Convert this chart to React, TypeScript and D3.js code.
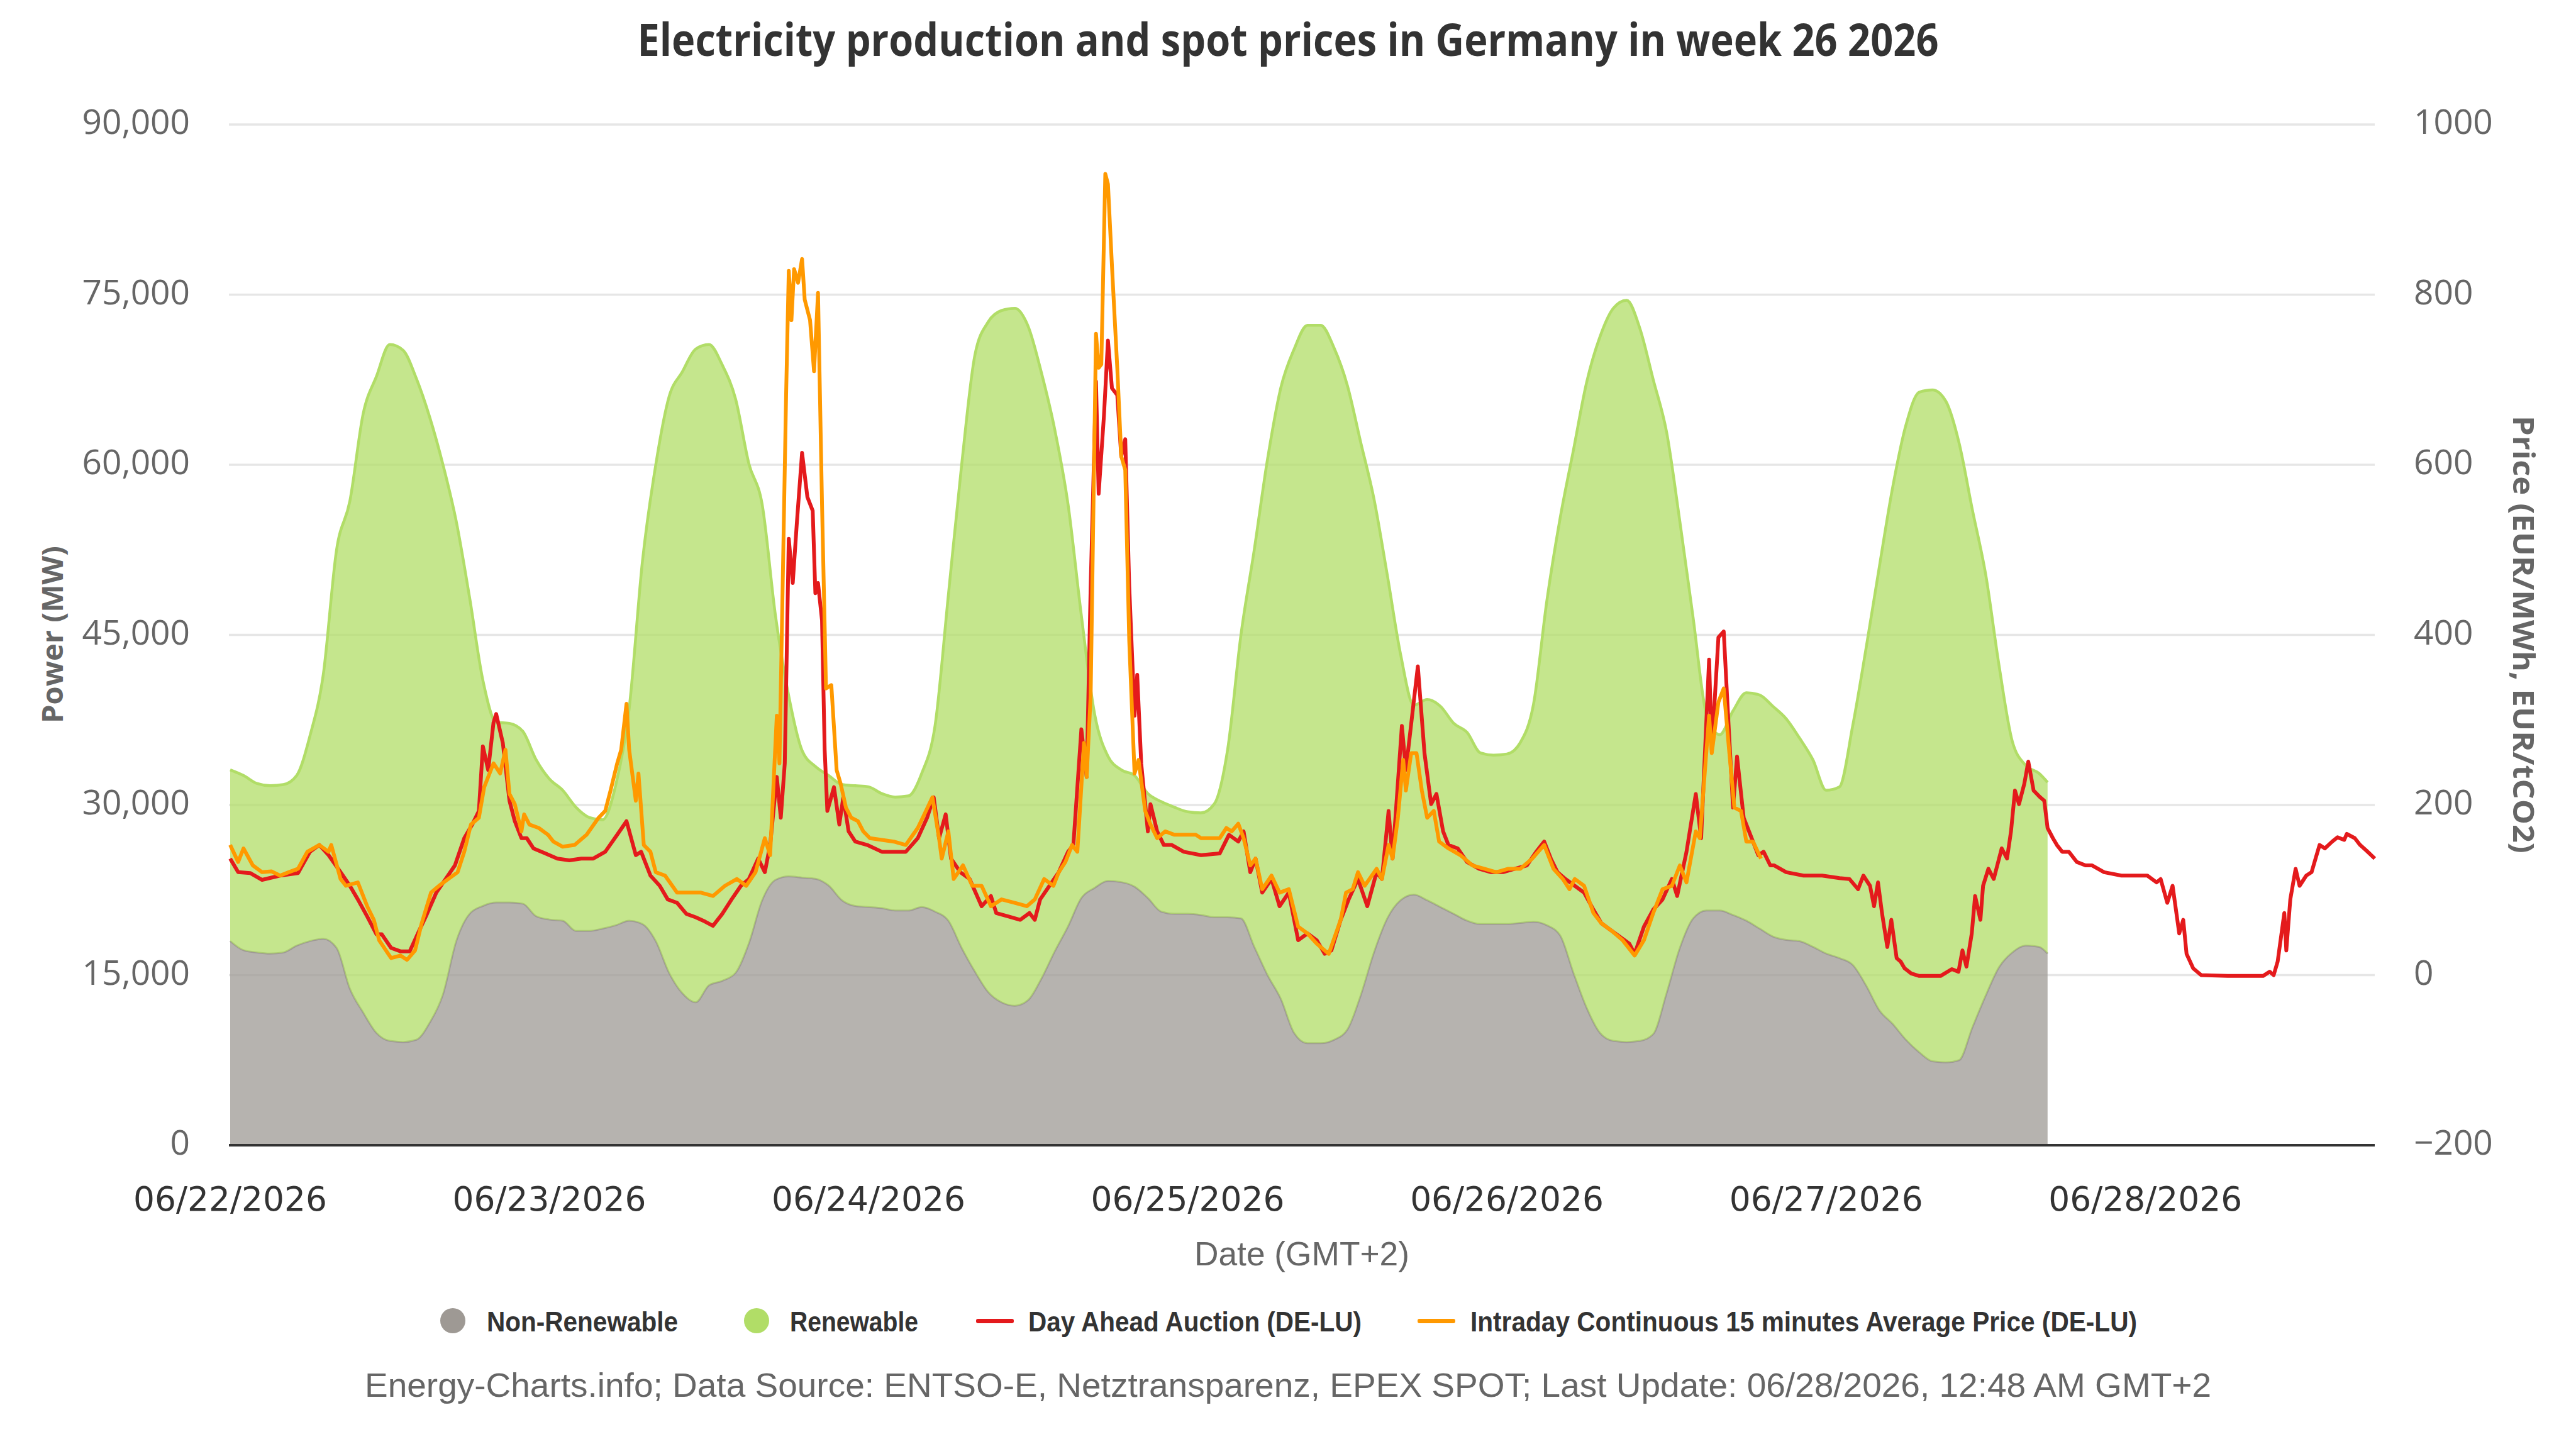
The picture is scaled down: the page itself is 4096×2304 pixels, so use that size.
import React from "react";
import * as d3 from "d3";

// -- DATA --
// production, one value per hour starting 06/22/2026 00:00 (MW)
const nonRenewable = [
  18000, 17200, 17000, 16900, 17000, 17600, 18000, 18200, 17400, 13800,
  11700, 9900, 9200, 9100, 9300, 10800, 13300, 18000, 20400, 21100,
  21400, 21400, 21300, 20200, 19900, 19800, 18900, 18900, 19100, 19400,
  19800, 19500, 18000, 15200, 13400, 12600, 14100, 14500, 15200, 17800,
  21600, 23400, 23700, 23600, 23500, 22900, 21600, 21100, 21000, 20900,
  20700, 20700, 21000, 20600, 19800, 17400, 15300, 13500, 12600, 12300,
  12800, 14700, 17100, 19300, 21800, 22700, 23300, 23200, 22800, 21800,
  20600, 20400, 20400, 20300, 20100, 20100, 20000, 17500, 15000, 12900,
  9900, 9000, 9000, 9300, 10200, 13200, 17000, 20000, 21600, 22100,
  21600, 21000, 20400, 19800, 19500, 19500, 19500, 19600, 19700, 19400,
  18500, 15200, 12100, 9900, 9200, 9100, 9200, 9800, 13400, 17400,
  20000, 20700, 20700, 20300, 19800, 19100, 18400, 18100, 18000, 17500,
  16900, 16500, 15900, 14100, 11900, 10700, 9300, 8200, 7400, 7300,
  7500, 10400, 13200, 15700, 17000, 17600, 17500, 16900,
];
const renewable = [
  15100, 15400, 14900, 14800, 14800, 15000, 18100, 23300, 35100, 43000,
  52800, 57900, 61400, 61000, 58300, 53400, 46700, 37000, 27900, 19900,
  15900, 15800, 15200, 13800, 12400, 11500, 10900, 10000, 9600, 12400,
  18700, 32000, 42000, 50800, 54800, 57600, 56500, 54300, 50600, 42300,
  34900, 23300, 15900, 11200, 9900, 9700, 10200, 10600, 10600, 10100,
  10000, 10100, 11800, 16400, 28700, 42600, 54400, 59100, 61000, 61500,
  59400, 53400, 46000, 37200, 24900, 15300, 11000, 9900, 9800, 9200,
  9700, 9400, 9000, 9000, 10000, 14800, 25000, 35000, 45500, 53900,
  60300, 63300, 63300, 61000, 56800, 48800, 40000, 30300, 21700, 16700,
  17700, 17700, 16800, 16600, 15100, 14900, 15000, 15900, 19200, 28600,
  36800, 46100, 55200, 61400, 64600, 65400, 62800, 57700, 49500, 37600,
  26500, 17300, 15500, 18000, 20100, 20600, 20300, 19500, 17900, 16500,
  14400, 15100, 21100, 29700, 39100, 47300, 54200, 58200, 59200, 58300,
  54400, 45600, 37100, 26600, 18600, 15900, 15300, 15100,
];
// last production timestamp, hours after 06/22 00:00
const productionEndHour = 136.65;

// [hours after 06/22 00:00, EUR/MWh]
const dayAhead: [number, number][] = [
  [0, 137], [0.6, 121], [1.5, 120], [2.4, 112], [3.75, 117], [5.1, 120], [6, 145], [6.7, 153],
  [7.4, 141], [8.3, 121], [9, 105], [9.6, 89], [10.3, 69], [11, 48], [11.4, 48], [12.1, 32],
  [12.8, 28], [13.5, 28], [14.2, 52], [14.8, 72], [15.5, 97], [16.2, 113], [16.9, 129], [17.6, 161],
  [18.2, 177], [18.7, 193], [19, 269], [19.4, 241], [19.8, 297], [20, 307], [20.5, 273], [21, 205],
  [21.4, 181], [21.9, 161], [22.3, 161], [22.8, 149], [23.7, 143], [24.6, 137], [25.5, 135], [26.4, 137],
  [27.3, 137], [28.2, 145], [29.1, 165], [29.8, 181], [30.5, 141], [30.9, 145], [31.6, 117], [32.3, 105],
  [32.9, 89], [33.6, 85], [34.3, 72], [35, 68], [35.7, 63], [36.3, 58], [37, 72], [37.7, 89],
  [38.4, 105], [39, 113], [39.7, 137], [40.2, 121], [40.6, 153], [41.1, 233], [41.4, 185], [41.7, 249],
  [42, 513], [42.3, 461], [42.6, 530], [43, 614], [43.4, 562], [43.8, 546], [44, 449], [44.2, 461],
  [44.5, 417], [44.7, 265], [44.9, 193], [45.4, 221], [45.8, 177], [46.1, 209], [46.5, 169], [47, 157],
  [47.9, 153], [49, 145], [50.8, 145], [51.7, 161], [52.4, 185], [52.9, 209], [53.3, 161], [53.8, 189],
  [54.2, 137], [54.9, 121], [55.6, 113], [56.5, 81], [57.2, 93], [57.6, 73], [58.5, 69], [59.4, 65],
  [60.1, 73], [60.5, 65], [60.9, 89], [61.6, 105], [62.3, 121], [63, 145], [63.4, 153], [64, 289],
  [64.4, 233], [64.7, 457], [65.1, 698], [65.3, 566], [65.7, 658], [66, 746], [66.3, 690], [66.7, 682],
  [67, 610], [67.3, 630], [67.6, 457], [68, 305], [68.2, 353], [68.5, 249], [69, 169], [69.2, 201],
  [69.7, 169], [70.2, 153], [70.8, 153], [71.7, 145], [73, 141], [74.4, 143], [75.1, 165], [75.8, 157],
  [76.2, 169], [76.7, 121], [77.1, 137], [77.6, 97], [78.3, 113], [78.9, 81], [79.6, 97], [80.3, 41],
  [81, 49], [81.7, 41], [82.3, 25], [82.8, 29], [83.5, 65], [84.1, 89], [84.8, 113], [85.5, 81],
  [86.2, 121], [86.6, 113], [87.1, 193], [87.4, 137], [88.1, 293], [88.4, 241], [88.9, 309], [89.3, 363],
  [89.8, 261], [90.3, 201], [90.7, 213], [91.2, 169], [91.6, 153], [92.3, 149], [93, 133], [93.9, 125],
  [94.8, 121], [95.7, 121], [96.6, 125], [97.5, 129], [98.2, 145], [98.8, 157], [99.3, 137], [99.8, 121],
  [100.4, 113], [101.1, 105], [101.8, 97], [102.5, 77], [103.1, 61], [103.8, 53], [104.5, 45], [105.2, 37],
  [105.6, 25], [106.3, 57], [107, 77], [107.7, 89], [108.4, 113], [108.8, 93], [109.5, 145], [110.2, 213],
  [110.6, 161], [111.2, 371], [111.4, 265], [111.9, 397], [112.3, 404], [112.6, 313], [113, 197], [113.3, 257],
  [113.8, 185], [114.2, 169], [114.9, 141], [115.3, 145], [115.8, 129], [116.1, 129], [117, 121], [118.3, 117],
  [119.7, 117], [121, 114], [121.75, 113], [122.4, 101], [122.8, 117], [123.3, 105], [123.6, 81], [123.9, 109],
  [124.2, 73], [124.6, 33], [124.9, 65], [125.3, 20], [125.6, 16], [125.9, 8], [126.4, 2], [127, -1],
  [128.6, -1], [129.45, 7], [129.95, 4], [130.25, 29], [130.55, 10], [130.95, 49], [131.2, 93], [131.6, 65],
  [131.8, 105], [132.2, 125], [132.6, 113], [133.2, 149], [133.6, 137], [133.9, 169], [134.2, 217], [134.5, 201],
  [134.9, 225], [135.2, 251], [135.6, 217], [136.1, 209], [136.4, 205], [136.65, 173], [137.05, 161], [137.35, 153],
  [137.75, 145], [138.25, 145], [138.85, 133], [139.5, 129], [140, 129], [140.9, 121], [142.2, 117], [143.6, 117],
  [144.15, 117], [144.85, 109], [145.15, 113], [145.65, 85], [146.05, 105], [146.55, 49], [146.85, 65], [147.1, 25],
  [147.6, 8], [148.2, 0], [150.2, -1], [152.85, -1], [153.35, 4], [153.65, 0], [153.95, 16], [154.45, 73],
  [154.6, 29], [154.9, 89], [155.3, 125], [155.6, 105], [156.1, 117], [156.5, 121], [156.8, 137], [157.1, 153],
  [157.5, 149], [158.05, 157], [158.45, 162], [158.95, 159], [159.15, 166], [159.75, 161], [160.15, 153], [160.65, 146],
  [161.25, 137],
];
const intraday: [number, number][] = [
  [0, 153], [0.6, 133], [1, 149], [1.7, 129], [2.4, 121], [3.1, 122], [3.75, 117], [4.4, 121],
  [5.1, 125], [5.8, 145], [6.7, 153], [7.4, 145], [7.6, 153], [8.3, 113], [8.7, 105], [9.6, 109],
  [10.3, 81], [10.8, 65], [11.2, 41], [12.1, 20], [12.8, 23], [13.3, 18], [13.9, 29], [14.4, 61],
  [15.1, 97], [15.7, 105], [16.4, 113], [17.1, 121], [17.6, 145], [18.1, 177], [18.7, 185], [19.1, 221],
  [19.8, 249], [20.3, 237], [20.7, 265], [21, 213], [21.4, 201], [21.9, 169], [22.1, 189], [22.5, 177],
  [23.2, 173], [23.9, 165], [24.3, 157], [25, 151], [25.9, 153], [26.8, 165], [27.7, 185], [28.2, 193],
  [28.6, 217], [29.1, 249], [29.4, 265], [29.8, 319], [30, 265], [30.5, 205], [30.7, 237], [31.1, 153],
  [31.6, 145], [32, 121], [32.7, 117], [33.6, 97], [34.5, 97], [35.4, 97], [36.3, 93], [37.2, 105],
  [38.1, 113], [38.8, 105], [39.5, 121], [40.2, 161], [40.6, 141], [41.1, 305], [41.3, 249], [41.8, 682],
  [42, 828], [42.2, 770], [42.4, 830], [42.7, 814], [43, 842], [43.2, 794], [43.6, 770], [43.9, 710],
  [44.2, 802], [44.5, 554], [44.8, 337], [45.2, 341], [45.6, 241], [45.9, 225], [46.3, 197], [46.7, 185],
  [47.2, 181], [47.6, 169], [48.1, 161], [49, 159], [49.9, 157], [50.8, 153], [51.7, 173], [52.1, 186],
  [52.8, 209], [53.3, 161], [53.5, 137], [54, 169], [54.4, 113], [55.1, 129], [55.8, 105], [56.5, 105],
  [57.2, 81], [58, 89], [59, 85], [59.9, 81], [60.5, 89], [61.2, 113], [61.9, 105], [62.3, 121],
  [62.8, 133], [63.3, 153], [63.7, 145], [64.2, 273], [64.4, 233], [64.7, 329], [65.1, 754], [65.3, 714],
  [65.5, 718], [65.8, 942], [66, 930], [66.3, 834], [66.7, 714], [67, 610], [67.3, 594], [67.6, 393],
  [68, 237], [68.3, 253], [68.8, 193], [69.2, 177], [69.7, 161], [70.3, 169], [71, 165], [71.7, 165],
  [72.6, 165], [73, 161], [74.4, 161], [74.9, 173], [75.3, 169], [75.8, 178], [76.2, 161], [76.7, 129],
  [77.1, 137], [77.6, 101], [78.3, 117], [78.9, 97], [79.6, 101], [80.3, 57], [81, 49], [81.7, 37],
  [82.6, 25], [83.5, 65], [83.9, 97], [84.4, 101], [84.8, 121], [85.3, 105], [86.2, 125], [86.6, 113],
  [87.1, 153], [87.4, 137], [87.8, 185], [88.2, 253], [88.4, 217], [88.8, 261], [89.2, 261], [89.6, 217],
  [90, 185], [90.5, 193], [90.9, 157], [91.6, 149], [92.5, 141], [93.4, 129], [94.3, 125], [95.2, 121],
  [96.1, 125], [97, 125], [97.9, 137], [98.8, 153], [99.5, 125], [100.2, 113], [100.7, 101], [101.1, 113],
  [101.8, 105], [102.5, 73], [103.1, 61], [103.8, 53], [104.7, 41], [105.6, 23], [106.3, 41], [107, 73],
  [107.7, 101], [108.4, 105], [109, 129], [109.5, 109], [110.2, 169], [110.5, 161], [111.2, 305], [111.4, 261],
  [111.9, 321], [112.3, 337], [112.7, 265], [113.1, 197], [113.6, 193], [114, 157], [114.5, 157], [115.1, 137],
];

const dayLabels = ["06/22/2026", "06/23/2026", "06/24/2026", "06/25/2026", "06/26/2026", "06/27/2026", "06/28/2026"];
const powerTicks = [0, 15000, 30000, 45000, 60000, 75000, 90000];
const priceTicks = [-200, 0, 200, 400, 600, 800, 1000];

const colors = {
  nonRenewable: "#9e9994",
  renewable: "#b1dd67",
  dayAhead: "#e41a1c",
  intraday: "#ff9900",
};

// -- LAYOUT --
const W = 4096;
const H = 2304;
const margin = { left: 366, right: 3776, top: 198, bottom: 1821 };
const LABEL_FONT = "'Open Sans', sans-serif";

const App = () => {
  // scales
  const lastHour = d3.max(dayAhead, (d) => d[0]) as number;
  const x = d3.scaleLinear().domain([0, lastHour]).range([margin.left, margin.right]);
  const yPower = d3.scaleLinear().domain([0, 90000]).range([margin.bottom, margin.top]);
  const yPrice = d3.scaleLinear().domain([-200, 1000]).range([margin.bottom, margin.top]);

  // stacked production
  const stacked = nonRenewable.map((nr, i) => ({
    h: Math.min(i, productionEndHour),
    nr,
    total: nr + renewable[i],
  }));
  type P = (typeof stacked)[number];
  const grayArea = d3.area<P>().x((d) => x(d.h)).y0(yPower(0)).y1((d) => yPower(d.nr)).curve(d3.curveMonotoneX);
  const grayLine = d3.line<P>().x((d) => x(d.h)).y((d) => yPower(d.nr)).curve(d3.curveMonotoneX);
  const greenArea = d3
    .area<P>()
    .x((d) => x(d.h))
    .y0((d) => yPower(d.nr))
    .y1((d) => yPower(d.total))
    .curve(d3.curveMonotoneX);
  const greenLine = d3.line<P>().x((d) => x(d.h)).y((d) => yPower(d.total)).curve(d3.curveMonotoneX);

  const priceLine = d3
    .line<[number, number]>()
    .x((d) => x(d[0]))
    .y((d) => yPrice(d[1]));

  const fmt = d3.format(",");

  // legend entries (label, kind, marker x, text x, text width)
  const legend = [
    { label: "Non-Renewable", color: colors.nonRenewable, kind: "dot", mx: 720, tx: 774, tw: 304 },
    { label: "Renewable", color: colors.renewable, kind: "dot", mx: 1203, tx: 1256, tw: 204 },
    { label: "Day Ahead Auction (DE-LU)", color: colors.dayAhead, kind: "line", mx: 1582, tx: 1635, tw: 530 },
    {
      label: "Intraday Continuous 15 minutes Average Price (DE-LU)",
      color: colors.intraday,
      kind: "line",
      mx: 2284,
      tx: 2338,
      tw: 1060,
    },
  ];

  return (
    <svg
      width={W}
      height={H}
      viewBox={`0 0 ${W} ${H}`}
      style={{ position: "absolute", left: 0, top: 0, background: "#fff" }}
    >
      {/* title */}
      <text
        x={W / 2}
        y={89}
        textAnchor="middle"
        fontFamily={LABEL_FONT}
        fontWeight={700}
        fontSize={71}
        fill="#333"
        textLength={2069}
        lengthAdjust="spacingAndGlyphs"
      >
        Electricity production and spot prices in Germany in week 26 2026
      </text>

      {/* grid */}
      {powerTicks.map((t) => (
        <line key={t} x1={364} x2={margin.right} y1={yPower(t)} y2={yPower(t)} stroke="#e6e6e6" strokeWidth={3.5} />
      ))}

      {/* stacked areas */}
      <path d={grayArea(stacked) || ""} fill={colors.nonRenewable} fillOpacity={0.75} />
      <path d={grayLine(stacked) || ""} fill="none" stroke={colors.nonRenewable} strokeWidth={3} />
      <path d={greenArea(stacked) || ""} fill={colors.renewable} fillOpacity={0.75} />
      <path d={greenLine(stacked) || ""} fill="none" stroke={colors.renewable} strokeWidth={4.5} />

      {/* prices */}
      <path
        d={priceLine(dayAhead) || ""}
        fill="none"
        stroke={colors.dayAhead}
        strokeWidth={6}
        strokeLinejoin="round"
      />
      <path
        d={priceLine(intraday) || ""}
        fill="none"
        stroke={colors.intraday}
        strokeWidth={6}
        strokeLinejoin="round"
      />

      {/* x axis */}
      <line x1={364} x2={margin.right} y1={margin.bottom} y2={margin.bottom} stroke="#333" strokeWidth={4} />
      {dayLabels.map((d, i) => (
        <text
          key={d}
          x={x(i * 24)}
          y={1925}
          textAnchor="middle"
          fontFamily="'DejaVu Sans', sans-serif"
          fontSize={53}
          fill="#333"
          textLength={308}
          lengthAdjust="spacingAndGlyphs"
        >
          {d}
        </text>
      ))}
      <text
        x={2070}
        y={2012}
        textAnchor="middle"
        fontFamily="'Liberation Sans', sans-serif"
        fontSize={53}
        fill="#666"
        textLength={342}
        lengthAdjust="spacingAndGlyphs"
      >
        Date (GMT+2)
      </text>

      {/* left axis */}
      {powerTicks.map((t) => (
        <text key={t} x={302} y={yPower(t) + 15} textAnchor="end" fontFamily={LABEL_FONT} fontSize={55} fill="#666">
          {fmt(t)}
        </text>
      ))}
      <text
        transform={`translate(${100},${1009}) rotate(-90)`}
        textAnchor="middle"
        fontFamily={LABEL_FONT}
        fontWeight={700}
        fontSize={46}
        fill="#666"
        textLength={282}
        lengthAdjust="spacingAndGlyphs"
      >
        Power (MW)
      </text>

      {/* right axis */}
      {priceTicks.map((t) => (
        <text key={t} x={3838} y={yPrice(t) + 15} textAnchor="start" fontFamily={LABEL_FONT} fontSize={55} fill="#666">
          {t < 0 ? `\u2212${Math.abs(t)}` : t}
        </text>
      ))}
      <text
        transform={`translate(${3996},${1009}) rotate(90)`}
        textAnchor="middle"
        fontFamily={LABEL_FONT}
        fontWeight={700}
        fontSize={46}
        fill="#666"
        textLength={696}
        lengthAdjust="spacingAndGlyphs"
      >
        Price (EUR/MWh, EUR/tCO2)
      </text>

      {/* legend */}
      {legend.map((l) => (
        <g key={l.label}>
          {l.kind === "dot" ? (
            <circle cx={l.mx} cy={2100} r={20} fill={l.color} />
          ) : (
            <rect x={l.mx - 30} y={2097} width={60} height={7} rx={3} fill={l.color} />
          )}
          <text
            x={l.tx}
            y={2117}
            fontFamily="'Liberation Sans', sans-serif"
            fontWeight={700}
            fontSize={44}
            fill="#333"
            textLength={l.tw}
            lengthAdjust="spacingAndGlyphs"
          >
            {l.label}
          </text>
        </g>
      ))}

      {/* credits */}
      <text
        x={2048}
        y={2221}
        textAnchor="middle"
        fontFamily="'Liberation Sans', sans-serif"
        fontSize={54}
        fill="#666"
        textLength={2936}
        lengthAdjust="spacingAndGlyphs"
      >
        Energy-Charts.info; Data Source: ENTSO-E, Netztransparenz, EPEX SPOT; Last Update: 06/28/2026, 12:48 AM GMT+2
      </text>
    </svg>
  );
};

export default App;
